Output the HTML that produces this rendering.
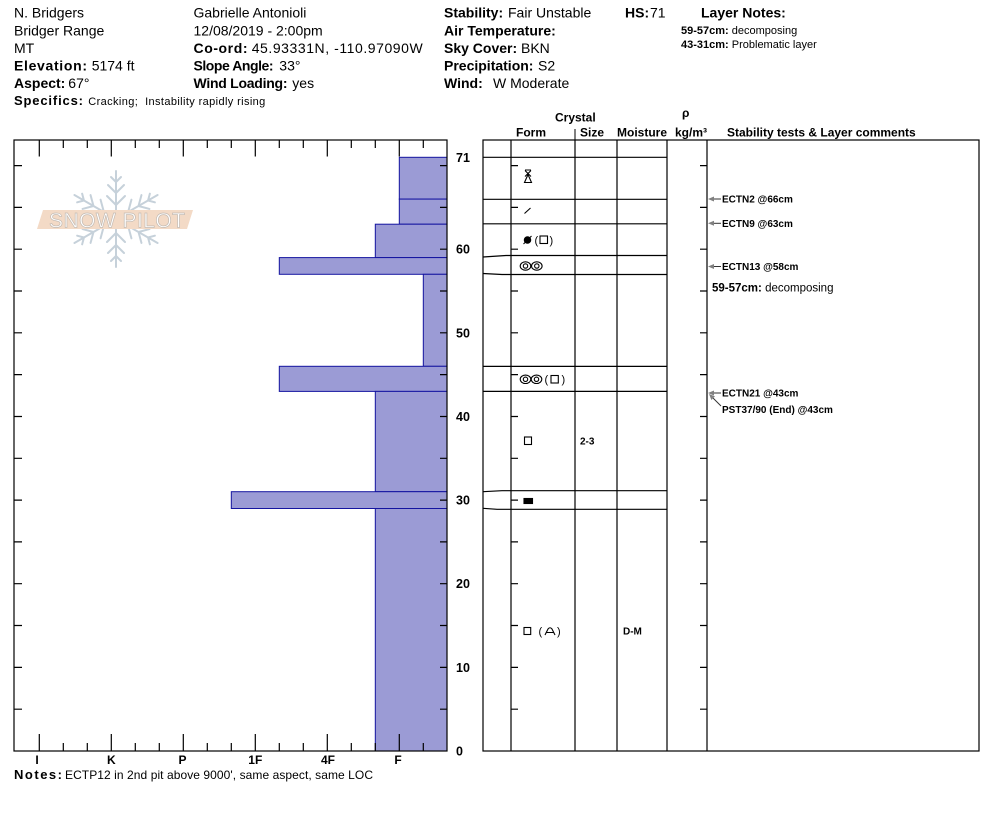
<!DOCTYPE html>
<html><head><meta charset="utf-8">
<style>
html,body{margin:0;padding:0;background:#fff;}
svg{display:block;}
text{font-family:"Liberation Sans",Arial,sans-serif;fill:#000;}
.b{font-weight:bold;}
</style></head><body>
<svg width="994" height="840" viewBox="0 0 994 840" xmlns="http://www.w3.org/2000/svg">
<rect width="994" height="840" fill="#fff"/>

<!-- Header column 1 -->
<text x="14" y="17.5" font-size="14">N. Bridgers</text>
<text x="14" y="35.3" font-size="14">Bridger Range</text>
<text x="14" y="53" font-size="14">MT</text>
<text x="14" y="70.5" font-size="14" class="b" textLength="73">Elevation:</text>
<text x="91.7" y="70.5" font-size="14">5174 ft</text>
<text x="14" y="88" font-size="14" class="b">Aspect:</text>
<text x="68.3" y="88" font-size="14">67°</text>
<text x="14" y="105" font-size="13" class="b" textLength="69">Specifics:</text>
<text x="88.3" y="105" font-size="11" textLength="177" xml:space="preserve">Cracking;  Instability rapidly rising</text>

<!-- Header column 2 -->
<text x="193.5" y="17.5" font-size="14">Gabrielle Antonioli</text>
<text x="193.5" y="35.3" font-size="14">12/08/2019 - 2:00pm</text>
<text x="193.5" y="53" font-size="14" class="b" textLength="54">Co-ord:</text>
<text x="251.7" y="53" font-size="14" textLength="171">45.93331N, -110.97090W</text>
<text x="193.5" y="70.5" font-size="14" class="b" textLength="80">Slope Angle:</text>
<text x="279.3" y="70.5" font-size="14">33°</text>
<text x="193.5" y="88" font-size="14" class="b" textLength="94">Wind Loading:</text>
<text x="292.3" y="88" font-size="14">yes</text>

<!-- Header column 3 -->
<text x="444" y="17.5" font-size="14" class="b">Stability:</text>
<text x="508" y="17.5" font-size="14">Fair Unstable</text>
<text x="625" y="17.5" font-size="14" class="b">HS:</text>
<text x="650" y="17.5" font-size="14">71</text>
<text x="701" y="17.5" font-size="14" class="b">Layer Notes:</text>
<text x="444" y="35.3" font-size="14" class="b">Air Temperature:</text>
<text x="444" y="53" font-size="14" class="b">Sky Cover:</text>
<text x="521" y="53" font-size="14">BKN</text>
<text x="444" y="70.5" font-size="14" class="b">Precipitation:</text>
<text x="538" y="70.5" font-size="14">S2</text>
<text x="444" y="88" font-size="14" class="b">Wind:</text>
<text x="493" y="88" font-size="14">W Moderate</text>

<text x="681" y="34" font-size="11" xml:space="preserve"><tspan class="b">59-57cm:</tspan> decomposing</text>
<text x="681" y="48" font-size="11" xml:space="preserve"><tspan class="b">43-31cm:</tspan> Problematic layer</text>

<!-- Column headers -->
<text x="555" y="121.5" font-size="12" class="b">Crystal</text>
<text x="682" y="117" font-size="12" class="b">ρ</text>
<text x="516" y="136.5" font-size="12" class="b">Form</text>
<text x="580" y="136.5" font-size="12" class="b">Size</text>
<text x="617" y="136.5" font-size="12" class="b">Moisture</text>
<text x="675" y="136.5" font-size="12" class="b">kg/m³</text>
<text x="727" y="136.5" font-size="12" class="b">Stability tests &amp; Layer comments</text>
<line x1="575" y1="129" x2="575" y2="140" stroke="#000" stroke-width="1"/>

<!-- Watermark -->
<g stroke="#c6d1da" stroke-width="2" stroke-linecap="round" fill="none">
  <g transform="translate(116,219) rotate(0)"><path d="M0,0 V-48 M0,-14 L-9,-23 M0,-14 L9,-23 M0,-26 L-8,-34 M0,-26 L8,-34 M0,-37 L-5,-42 M0,-37 L5,-42"/></g>
  <g transform="translate(116,219) rotate(60)"><path d="M0,0 V-48 M0,-14 L-9,-23 M0,-14 L9,-23 M0,-26 L-8,-34 M0,-26 L8,-34 M0,-37 L-5,-42 M0,-37 L5,-42"/></g>
  <g transform="translate(116,219) rotate(120)"><path d="M0,0 V-48 M0,-14 L-9,-23 M0,-14 L9,-23 M0,-26 L-8,-34 M0,-26 L8,-34 M0,-37 L-5,-42 M0,-37 L5,-42"/></g>
  <g transform="translate(116,219) rotate(180)"><path d="M0,0 V-48 M0,-14 L-9,-23 M0,-14 L9,-23 M0,-26 L-8,-34 M0,-26 L8,-34 M0,-37 L-5,-42 M0,-37 L5,-42"/></g>
  <g transform="translate(116,219) rotate(240)"><path d="M0,0 V-48 M0,-14 L-9,-23 M0,-14 L9,-23 M0,-26 L-8,-34 M0,-26 L8,-34 M0,-37 L-5,-42 M0,-37 L5,-42"/></g>
  <g transform="translate(116,219) rotate(300)"><path d="M0,0 V-48 M0,-14 L-9,-23 M0,-14 L9,-23 M0,-26 L-8,-34 M0,-26 L8,-34 M0,-37 L-5,-42 M0,-37 L5,-42"/></g>
</g>
<polygon points="43,210 193,210 187,229 37,229" fill="#f3dac6"/>
<text x="49" y="227.3" font-size="21" textLength="136" style="fill:#fff" stroke="#c4bbb3" stroke-width="0.7">SNOW PILOT</text>

<!-- Hardness bars -->
<g fill="#9b9bd5" stroke="#1414a0" stroke-width="1">
  <rect x="399.3" y="157.3" width="47.7" height="41.8"/>
  <rect x="399.3" y="199.1" width="47.7" height="25.1"/>
  <rect x="375.3" y="224.2" width="71.7" height="33.4"/>
  <rect x="279.3" y="257.6" width="167.7" height="16.7"/>
  <rect x="423.3" y="274.3" width="23.7" height="92.0"/>
  <rect x="279.3" y="366.3" width="167.7" height="25.1"/>
  <rect x="375.3" y="391.4" width="71.7" height="100.3"/>
  <rect x="231.3" y="491.7" width="215.7" height="16.8"/>
  <rect x="375.3" y="508.5" width="71.7" height="242.5"/>
</g>

<!-- Left chart frame & ticks -->
<g stroke="#000" stroke-width="1.2" fill="none">
  <rect x="14" y="140" width="433" height="611"/>
  <path d="M39.3,140V156.5 M111.3,140V156.5 M183.3,140V156.5 M255.3,140V156.5 M327.3,140V156.5 M399.3,140V156.5
           M63.3,140V148 M87.3,140V148 M135.3,140V148 M159.3,140V148 M207.3,140V148 M231.3,140V148 M279.3,140V148 M303.3,140V148 M351.3,140V148 M375.3,140V148 M423.3,140V148"/>
  <path d="M39.3,751V734 M111.3,751V734 M183.3,751V734 M255.3,751V734 M327.3,751V734 M399.3,751V734
           M63.3,751V743 M87.3,751V743 M135.3,751V743 M159.3,751V743 M207.3,751V743 M231.3,751V743 M279.3,751V743 M303.3,751V743 M351.3,751V743 M375.3,751V743 M423.3,751V743"/>
  <path d="M14,709.2H22 M14,667.4H22 M14,625.5H22 M14,583.7H22 M14,541.9H22 M14,500.1H22 M14,458.3H22 M14,416.5H22 M14,374.6H22 M14,332.8H22 M14,291H22 M14,249.2H22 M14,207.4H22 M14,165.6H22"/>
  <path d="M440,709.2H447 M440,667.4H447 M440,625.5H447 M440,583.7H447 M440,541.9H447 M440,500.1H447 M440,458.3H447 M440,416.5H447 M440,374.6H447 M440,332.8H447 M440,291H447 M440,249.2H447 M440,207.4H447 M440,165.6H447"/>
</g>

<!-- Depth labels -->
<g font-size="12.5" class="b">
  <text x="456" y="161.8">71</text>
  <text x="456" y="253.7">60</text>
  <text x="456" y="337.3">50</text>
  <text x="456" y="421">40</text>
  <text x="456" y="504.6">30</text>
  <text x="456" y="588.2">20</text>
  <text x="456" y="671.9">10</text>
  <text x="456" y="755.5">0</text>
</g>

<!-- Hardness labels -->
<g font-size="12" class="b" text-anchor="middle">
  <text x="37" y="764">I</text>
  <text x="111.3" y="764">K</text>
  <text x="182.5" y="764">P</text>
  <text x="255.3" y="764">1F</text>
  <text x="328" y="764">4F</text>
  <text x="398" y="764">F</text>
</g>

<!-- Notes -->
<text x="14" y="779" font-size="13" class="b" textLength="48">Notes:</text>
<text x="65" y="779" font-size="12" textLength="308">ECTP12 in 2nd pit above 9000', same aspect, same LOC</text>

<!-- Right table -->
<g stroke="#000" stroke-width="1.2" fill="none">
  <rect x="483" y="140" width="496" height="611"/>
  <path d="M511,140V751 M575,140V751 M617,140V751 M667,140V751 M707,140V751"/>
  <path d="M483,157.3H667 M483,199.3H667 M483,223.8H667
           M483,257L506,255.5H667
           M483,273.5L502,274.5H667
           M483,366.4H667 M483,391.4H667
           M483,491.7L502,490.7H667
           M483,508.3L497,509.3H667"/>
  <path d="M511,709.2H518 M511,667.4H518 M511,625.5H518 M511,583.7H518 M511,541.9H518 M511,500.1H518 M511,458.3H518 M511,416.5H518 M511,374.6H518 M511,332.8H518 M511,291H518 M511,249.2H518 M511,207.4H518 M511,165.6H518"/>
  <path d="M700,709.2H707 M700,667.4H707 M700,625.5H707 M700,583.7H707 M700,541.9H707 M700,500.1H707 M700,458.3H707 M700,416.5H707 M700,374.6H707 M700,332.8H707 M700,291H707 M700,249.2H707 M700,207.4H707 M700,165.6H707"/>
</g>

<!-- Grain form symbols -->
<g stroke="#000" stroke-width="1.1" fill="none">
  <path d="M525,170.5L531,176.5 M531,170.5L525,176.5 M525,170H531"/>
  <path d="M528,174.5L524.5,182.5H531.5Z"/>
  <path d="M524.5,213.5L530.5,208"/>
  <circle cx="527.5" cy="240" r="3.2" fill="#000"/>
  <path d="M523.5,244L531.5,236"/>
  <rect x="540" y="236" width="7.5" height="7.5"/>
  <ellipse cx="525.5" cy="266" rx="5.3" ry="4.2"/>
  <ellipse cx="536.8" cy="266" rx="5.3" ry="4.2"/>
  <circle cx="525.5" cy="266" r="2.2"/>
  <circle cx="536.8" cy="266" r="2.2"/>
  <ellipse cx="525.5" cy="379.3" rx="5.3" ry="4.2"/>
  <ellipse cx="536.5" cy="379.3" rx="5.3" ry="4.2"/>
  <circle cx="525.5" cy="379.3" r="2.2"/>
  <circle cx="536.5" cy="379.3" r="2.2"/>
  <rect x="551" y="375.5" width="7.3" height="7.5"/>
  <rect x="524.5" y="437" width="7" height="7.5"/>
  <rect x="524" y="498.5" width="8.5" height="5" fill="#000"/>
  <rect x="524" y="627.5" width="6.7" height="7"/>
  <path d="M545,635L548,629Q550,626.5 552,629L555,635 M546.5,632.5H553.5"/>
</g>
<g font-size="11">
  <text x="534.5" y="243.8">(</text>
  <text x="549.5" y="243.8">)</text>
  <text x="544.5" y="383">(</text>
  <text x="561.5" y="383">)</text>
  <text x="538.5" y="635">(</text>
  <text x="557" y="635">)</text>
</g>
<text x="580" y="444.5" font-size="10" class="b">2-3</text>
<text x="623" y="634.5" font-size="10" class="b">D-M</text>

<!-- Stability test arrows -->
<g stroke="#333" stroke-width="1">
  <line x1="713" y1="199" x2="721" y2="199"/>
  <line x1="713" y1="223.3" x2="721" y2="223.3"/>
  <line x1="713" y1="266.5" x2="721" y2="266.5"/>
  <line x1="713" y1="393" x2="721" y2="393"/>
  <line x1="713" y1="398" x2="721" y2="406"/>
</g>
<g fill="#808080">
  <polygon points="708,199 714,196.5 714,201.5"/>
  <polygon points="708,223.3 714,220.8 714,225.8"/>
  <polygon points="708,266.5 714,264 714,269"/>
  <polygon points="708,393 714,390.5 714,395.5"/>
  <polygon points="709,394 715,396.4 711.4,400"/>
</g>
<g font-size="10" class="b">
  <text x="722" y="202.6">ECTN2 @66cm</text>
  <text x="722" y="226.9">ECTN9 @63cm</text>
  <text x="722" y="270.2">ECTN13 @58cm</text>
  <text x="722" y="396.7">ECTN21 @43cm</text>
  <text x="722" y="413">PST37/90 (End) @43cm</text>
</g>
<text x="712" y="291.5" font-size="11.5" xml:space="preserve"><tspan class="b">59-57cm:</tspan> decomposing</text>

</svg>
</body></html>
